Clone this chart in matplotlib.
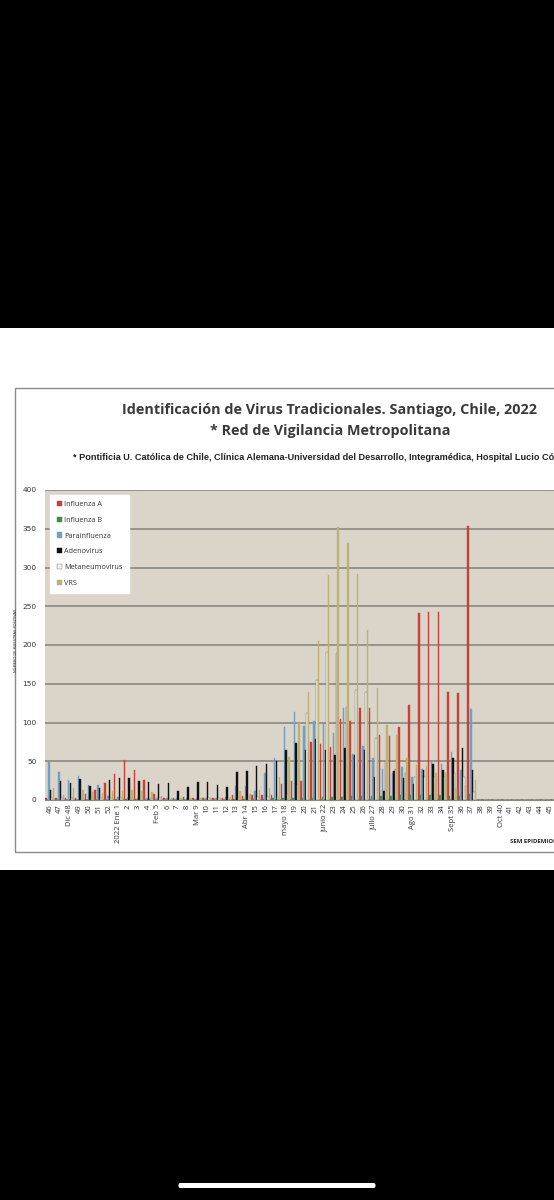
import numpy as np
import matplotlib
matplotlib.use('Agg')
import matplotlib.pyplot as plt
from matplotlib.patches import Rectangle, FancyBboxPatch

# semanas epidemiologicas 46 (2021) ... 45 (2022)
weeks = ['46', '47', 'Dic 48', '49', '50', '51', '52', '2022 Ene 1', '2', '3', '4',
         'Feb 5', '6', '7', '8', 'Mar 9', '10', '11', '12', '13', 'Abr 14', '15', '16',
         '17', 'mayo 18', '19', '20', '21', 'junio 22', '23', '24', '25', '26',
         'julio 27', '28', '29', '30', 'Ago 31', '32', '33', '34', 'Sept 35', '36',
         '37', '38', '39', 'Oct 40', '41', '42', '43', '44', '45']

flu_a = [2, 3, 2, 3, 8, 13, 22, 34, 51, 39, 26, 8, 3, 3, 4, 2, 3, 2, 3, 7, 5, 7, 6,
         6, 21, 24, 24, 75, 72, 69, 104, 102, 119, 119, 84, 82, 94, 122, 241, 243,
         242, 139, 138, 353, 0, 0, 0, 0, 0, 0, 0, 0]
flu_b = [0, 0, 0, 0, 0, 0, 0, 1, 1, 1, 0, 0, 0, 0, 0, 0, 0, 0, 0, 1, 1, 1, 1,
         2, 2, 2, 3, 3, 4, 4, 4, 5, 5, 5, 5, 5, 6, 6, 6, 6, 6, 5, 5, 8, 0, 0, 0, 0, 0, 0, 0, 0]
para = [49, 36, 26, 31, 19, 20, 5, 4, 3, 3, 3, 3, 2, 2, 2, 2, 3, 3, 4, 18, 18, 12, 35,
        54, 94, 113, 96, 102, 100, 86, 119, 60, 70, 54, 40, 35, 43, 30, 40, 49, 46,
        62, 39, 118, 0, 0, 0, 0, 0, 0, 0, 0]
adeno = [13, 24, 22, 27, 18, 15, 26, 29, 28, 24, 23, 21, 22, 11, 17, 23, 23, 19, 17,
         36, 37, 44, 47, 50, 64, 73, 64, 79, 64, 58, 67, 58, 64, 30, 12, 37, 28, 21,
         39, 46, 39, 54, 67, 39, 0, 0, 0, 0, 0, 0, 0, 0]
meta = [3, 2, 2, 3, 2, 2, 3, 2, 2, 2, 2, 2, 1, 1, 1, 1, 2, 2, 2, 3, 3, 4, 4,
        5, 8, 20, 112, 155, 191, 190, 120, 142, 140, 80, 50, 40, 35, 30, 30, 30, 30,
        35, 30, 10, 0, 0, 0, 0, 0, 0, 0, 0]
vrs = [15, 7, 15, 13, 10, 9, 12, 11, 13, 12, 10, 5, 3, 2, 3, 3, 3, 3, 4, 12, 8, 13,
       15, 30, 55, 100, 140, 205, 290, 352, 331, 291, 219, 145, 97, 84, 54, 45, 44,
       35, 35, 15, 20, 26, 0, 0, 0, 0, 0, 0, 0, 0]

names = ['Influenza A', 'Influenza B', 'Parainfluenza', 'Adenovirus', 'Metaneumovirus', 'VRS']
colors = ['#c8403c', '#3e8c3e', '#6f9fc2', '#111111', '#f4f2ec', '#bcb075']
edges = ['#c8403c', '#3e8c3e', '#6f9fc2', '#111111', '#6e6b58', '#bcb075']

fig = plt.figure(figsize=(5.54, 12), dpi=100, facecolor='black')
W, H = 554.0, 1200.0

# white screenshot band
fig.patches.append(Rectangle((0, 1 - 870 / H), 1, 542 / H, transform=fig.transFigure,
                             facecolor='white', edgecolor='none', zorder=-2))
# chart border
fig.patches.append(Rectangle((15 / W, 1 - 852 / H), 560 / W, 464 / H, transform=fig.transFigure,
                             facecolor='none', edgecolor='#8a8a8a', lw=1.0, zorder=-1))
# home indicator
fig.patches.append(FancyBboxPatch((178 / W, 1 - 1188 / H), 198 / W, 5 / H,
                                  boxstyle='round,pad=0,rounding_size=0.004',
                                  transform=fig.transFigure, facecolor='white',
                                  edgecolor='none', zorder=1))

fig.text(330 / W, 1 - 410 / H, 'Identificación de Virus Tradicionales. Santiago, Chile, 2022',
         ha='center', va='center', fontsize=10.4, fontweight='bold', color='#3a3a3a',
         family='Open Sans')
fig.text(330 / W, 1 - 431 / H, '* Red de Vigilancia Metropolitana',
         ha='center', va='center', fontsize=10.4, fontweight='bold', color='#3a3a3a',
         family='Open Sans')
fig.text(73 / W, 1 - 458 / H,
         '* Pontificia U. Católica de Chile, Clínica Alemana-Universidad del Desarrollo, '
         'Integramédica, Hospital Lucio Córdova',
         ha='left', va='center', fontsize=6.6, fontweight='bold', color='#222222',
         family='Liberation Sans')
fig.text(16 / W, 1 - 640 / H, 'NÚMERO DE MUESTRAS POSITIVAS', rotation=90,
         ha='center', va='center', fontsize=2.6, color='#333333')
fig.text(510 / W, 1 - 841 / H, 'SEM EPIDEMIOLÓGICA', ha='left', va='center',
         fontsize=4.3, fontweight='bold', color='#222222', family='Open Sans')

ax = fig.add_axes([45 / W, 1 - 800 / H, 510 / W, 310 / H])
ax.set_facecolor('#dbd5c9')

x = np.arange(len(weeks))
series = [flu_a, flu_b, para, adeno, meta, vrs]
for i, vals in enumerate(series):
    ax.bar(x + (i - 2.5) * 0.155, vals, width=0.15, color=colors[i], edgecolor=edges[i],
           lw=0.3, label=names[i], zorder=3)

ax.set_xlim(-0.5, len(weeks) - 0.5)
ax.set_ylim(0, 400)
ax.set_yticks(range(0, 401, 50))
ax.yaxis.grid(True, color='#8a8880', lw=1.2, zorder=1)
ax.set_axisbelow(True)
ax.set_xticks(x)
ax.set_xticklabels(weeks, rotation=90, fontsize=5.5, family='Open Sans', color='#333333')
ax.tick_params(axis='y', labelsize=5.3, length=0, pad=6, labelcolor='#333333')
ax.tick_params(axis='x', length=0, pad=3)
for s in ['top', 'right', 'left']:
    ax.spines[s].set_visible(False)
ax.spines['bottom'].set_color('#8a8880')

leg = ax.legend(loc='upper left', bbox_to_anchor=(0.003, 0.997),
                frameon=True, fancybox=False, edgecolor='white', facecolor='white',
                framealpha=1, handlelength=0.7, handleheight=0.7, handletextpad=0.3,
                borderpad=0.9, labelspacing=1.2, prop={'family': 'Open Sans', 'size': 5.2})
for t in leg.get_texts():
    t.set_color('#333333')

fig.savefig('out.png', dpi=100, facecolor='black')
